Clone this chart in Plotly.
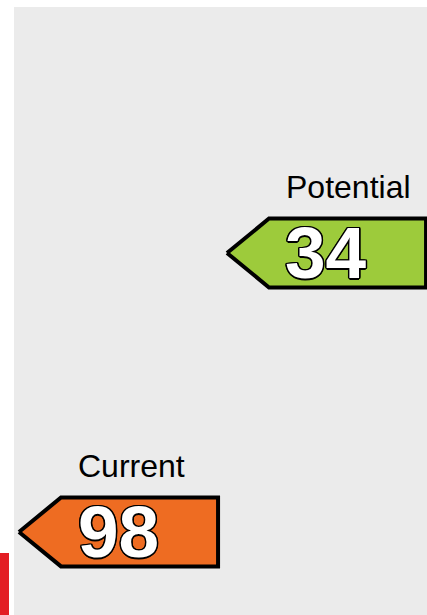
import plotly.graph_objects as go

labels = ["Current", "Potential"]
ratings = [98, 34]
fill_colors = ["#ee6c22", "#9dcb3b"]

W, H = 427, 615
Y_RANGE = [117.05, -24.04]   # reversed rating axis
X_RANGE = [-0.0913, 1.9615]
HALF_H = 7.9                 # arrow half height in rating units
TIP_W = 0.202
BODY_W = 0.957

fig = go.Figure()

outline = ("-1.2px -1.2px 0 #000, 1.2px -1.2px 0 #000, -1.2px 1.2px 0 #000, 1.2px 1.2px 0 #000, "
           "0 1.5px 0 #000, 0 -1.5px 0 #000, 1.5px 0 0 #000, -1.5px 0 0 #000")

for i, (lab, r, col) in enumerate(zip(labels, ratings, fill_colors)):
    xs = [i, i + TIP_W, i + BODY_W, i + BODY_W, i + TIP_W, i]
    ys = [r, r - HALF_H, r - HALF_H, r + HALF_H, r + HALF_H, r]
    fig.add_trace(go.Scatter(
        x=xs, y=ys, mode="lines", fill="toself", fillcolor=col,
        line=dict(color="black", width=4), hoverinfo="skip", showlegend=False,
    ))
    fig.add_annotation(
        x=i + 0.478, y=r, text=str(r), showarrow=False,
        font=dict(family="Liberation Sans, Arial", size=73, color="white", weight="bold",
                  shadow=outline),
        xanchor="center", yanchor="middle",
    )
    fig.add_annotation(
        x=i + 0.274, y=r - 15.1, text=lab, showarrow=False,
        font=dict(family="Liberation Sans, Arial", size=32, color="black"),
        xanchor="left", yanchor="middle",
    )

shapes = [
    dict(type="rect", xref="paper", yref="paper", x0=14 / W, x1=1, y0=0, y1=1 - 7 / H,
         fillcolor="#ebebeb", line=dict(width=0), layer="below"),
    dict(type="rect", xref="paper", yref="paper", x0=0, x1=9 / W, y0=0, y1=(H - 553) / H,
         fillcolor="#e31d23", line=dict(width=0), layer="below"),
]

fig.update_layout(
    width=W, height=H, margin=dict(l=0, r=0, t=0, b=0),
    paper_bgcolor="white", plot_bgcolor="white",
    shapes=shapes,
    xaxis=dict(range=X_RANGE, visible=False, fixedrange=True),
    yaxis=dict(range=Y_RANGE, visible=False, fixedrange=True),
)

fig.write_html("out.html", config={"displayModeBar": False},
               post_script="document.body.style.margin='0';document.body.style.overflow='hidden';")
